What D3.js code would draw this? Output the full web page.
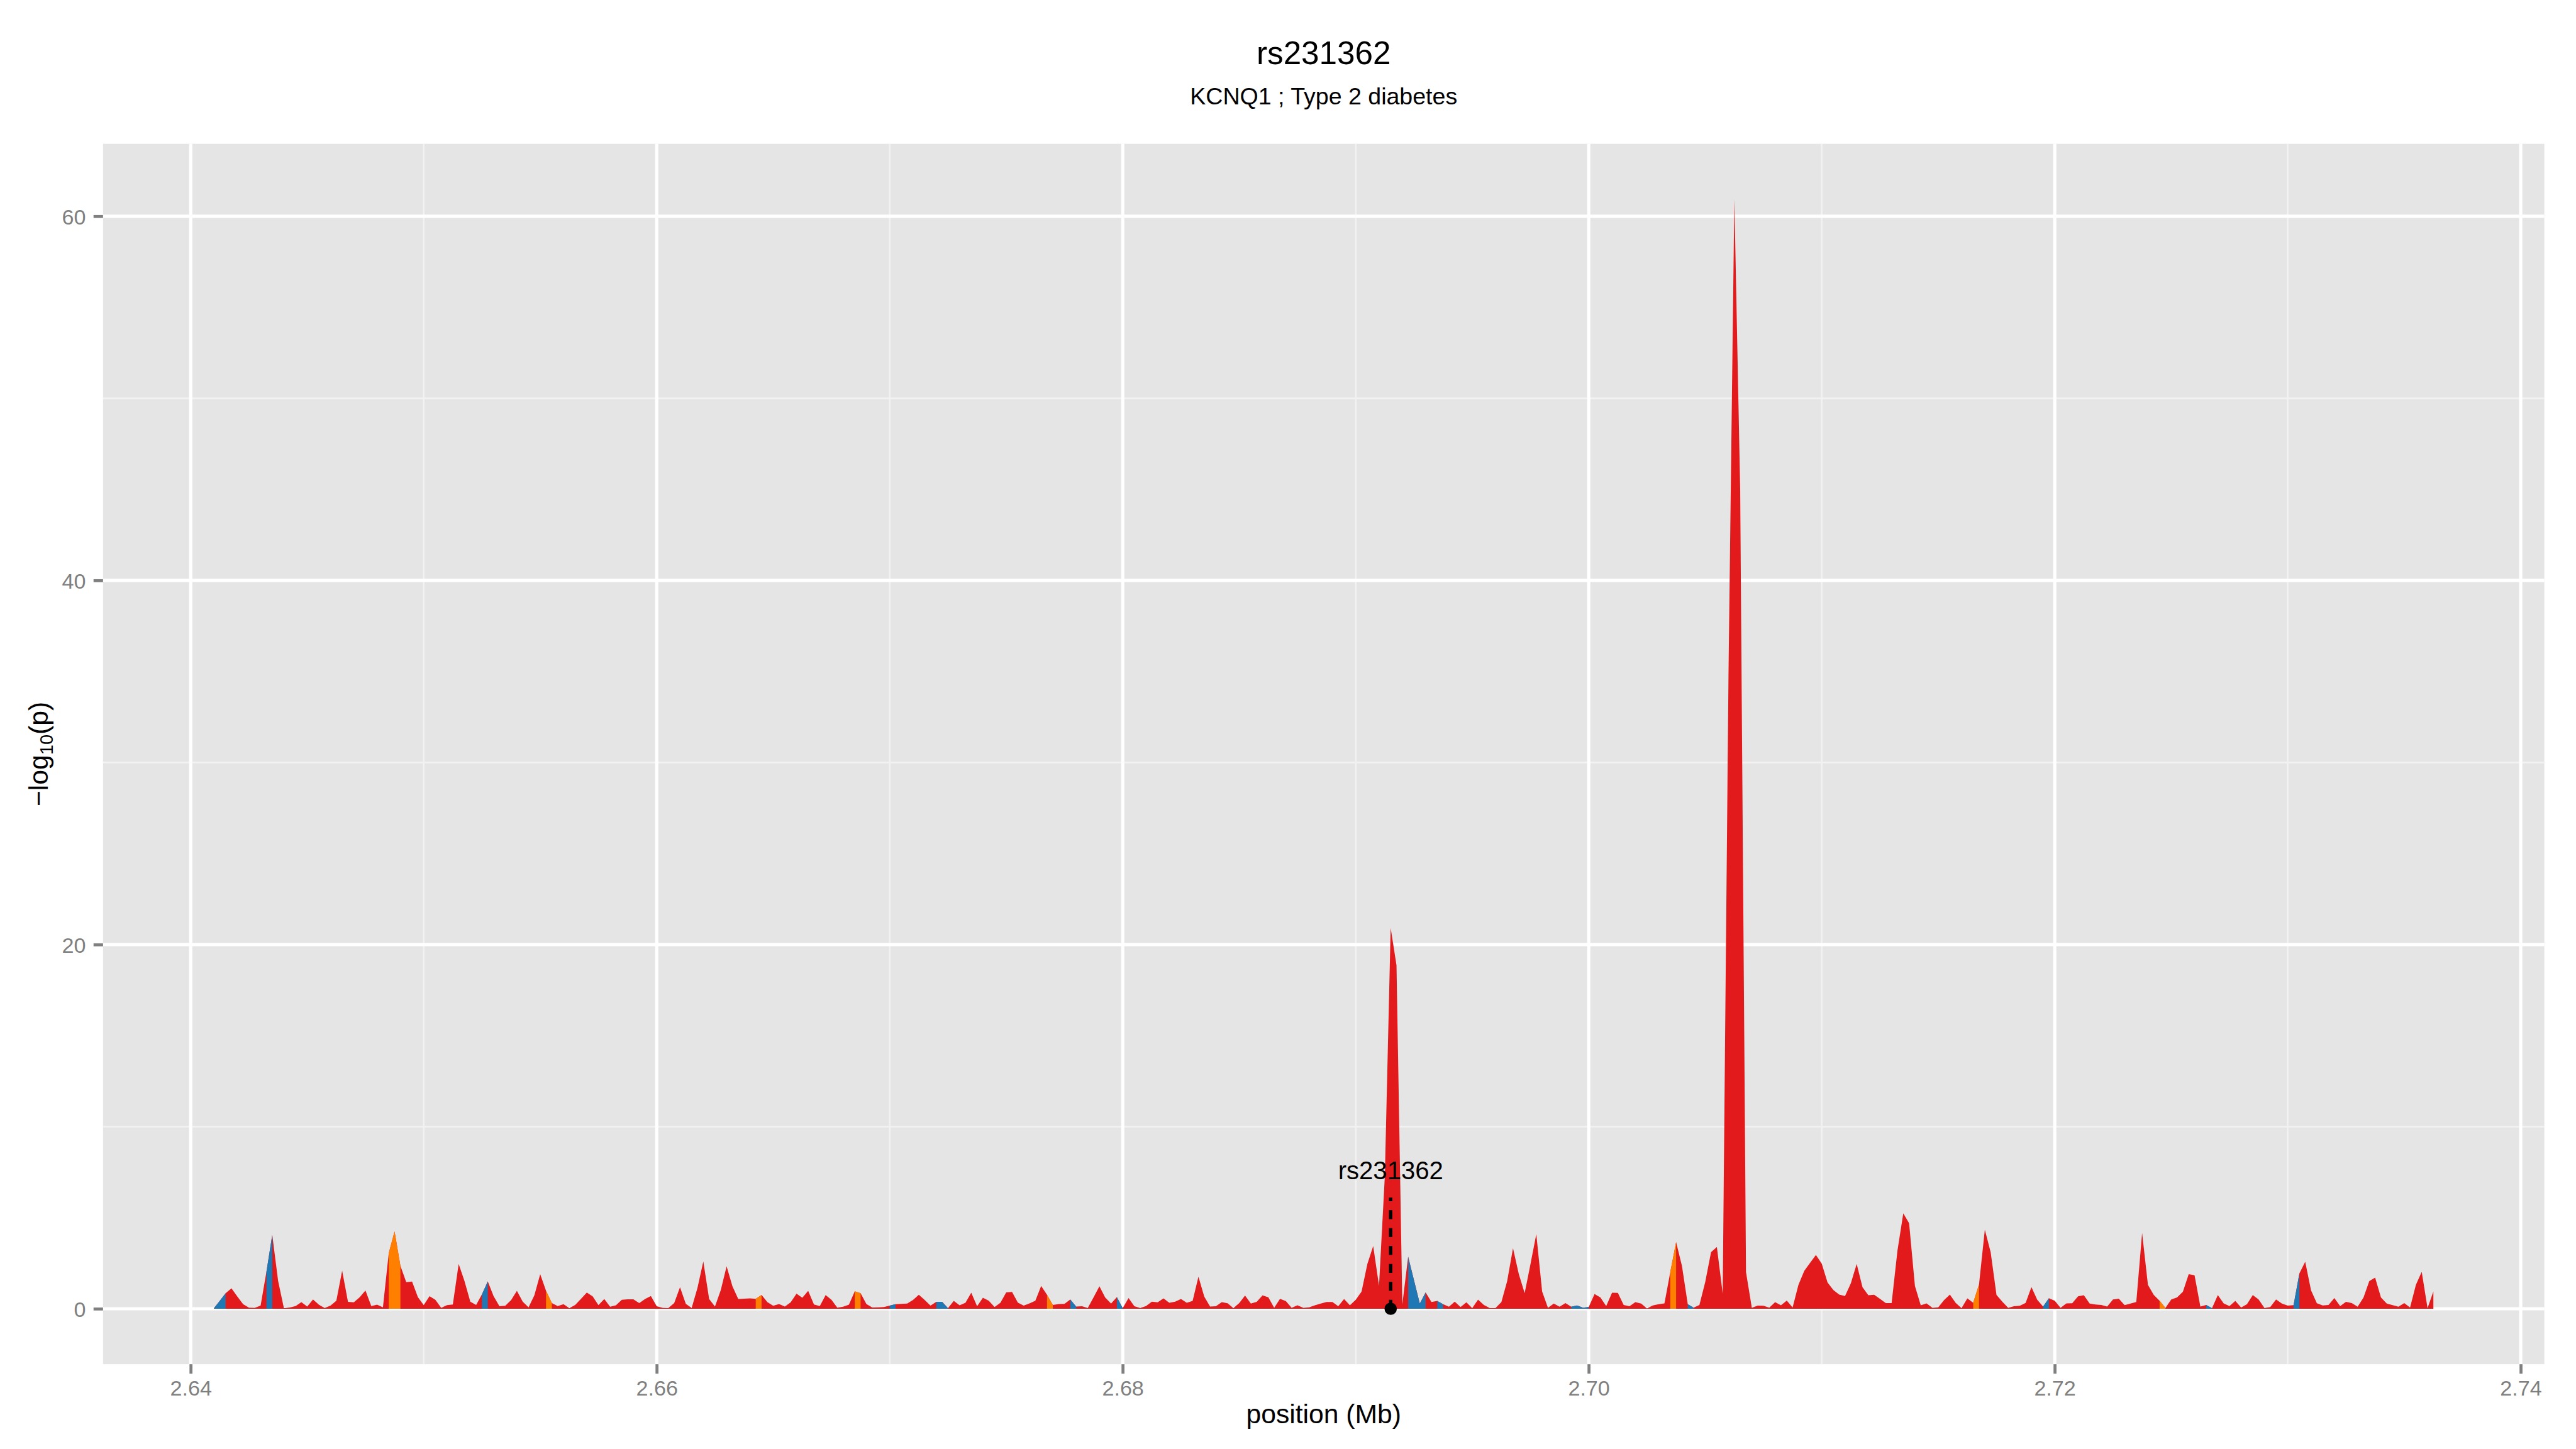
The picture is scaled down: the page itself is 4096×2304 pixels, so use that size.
<!DOCTYPE html>
<html>
<head>
<meta charset="utf-8">
<script src="https://cdn.jsdelivr.net/npm/d3@7/dist/d3.min.js"></script>
<style>
  html, body { margin: 0; padding: 0; background: #fff; }
  svg { display: block; }
</style>
</head>
<body>
<svg id="chart"></svg>
<script>
// ---- data ----
const plotTitle = "rs231362";
const plotSubtitle = "KCNQ1 ; Type 2 diabetes";
const xLabel = "position (Mb)";

// SNP positions (Mb)
const positions = [
  2.641,2.64125,2.6415,2.64175,2.642,2.64225,2.6425,2.64275,2.643,2.64325,2.6435,2.64375,2.644,2.64425,2.6445,2.64475,
  2.645,2.64525,2.6455,2.64575,2.646,2.64625,2.6465,2.64675,2.647,2.64725,2.6475,2.64775,2.648,2.64825,2.6485,2.64875,
  2.649,2.64925,2.6495,2.64975,2.65,2.65025,2.6505,2.65075,2.651,2.65125,2.6515,2.65175,2.652,2.65225,2.6525,2.65275,
  2.653,2.65325,2.6535,2.65375,2.654,2.65425,2.6545,2.65475,2.655,2.65525,2.6555,2.65575,2.656,2.65625,2.6565,2.65675,
  2.657,2.65725,2.6575,2.65775,2.658,2.65825,2.6585,2.65875,2.659,2.65925,2.6595,2.65975,2.66,2.66025,2.6605,2.66075,
  2.661,2.66125,2.6615,2.66175,2.662,2.66225,2.6625,2.66275,2.663,2.66325,2.6635,2.66375,2.664,2.66425,2.6645,2.66475,
  2.665,2.66525,2.6655,2.66575,2.666,2.66625,2.6665,2.66675,2.667,2.66725,2.6675,2.66775,2.668,2.66825,2.6685,2.66875,
  2.669,2.66925,2.6695,2.66975,2.67,2.67025,2.6705,2.67075,2.671,2.67125,2.6715,2.67175,2.672,2.67225,2.6725,2.67275,
  2.673,2.67325,2.6735,2.67375,2.674,2.67425,2.6745,2.67475,2.675,2.67525,2.6755,2.67575,2.676,2.67625,2.6765,2.67675,
  2.677,2.67725,2.6775,2.67775,2.678,2.67825,2.6785,2.67875,2.679,2.67925,2.6795,2.67975,2.68,2.68025,2.6805,2.68075,
  2.681,2.68125,2.6815,2.68175,2.682,2.68225,2.6825,2.68275,2.683,2.68325,2.6835,2.68375,2.684,2.68425,2.6845,2.68475,
  2.685,2.68525,2.6855,2.68575,2.686,2.68625,2.6865,2.68675,2.687,2.68725,2.6875,2.68775,2.688,2.68825,2.6885,2.68875,
  2.689,2.68925,2.6895,2.68975,2.69,2.69025,2.6905,2.69075,2.691,2.69125,2.6915,2.69175,2.692,2.69225,2.6925,2.69275,
  2.693,2.69325,2.6935,2.69375,2.694,2.69425,2.6945,2.69475,2.695,2.69525,2.6955,2.69575,2.696,2.69625,2.6965,2.69675,
  2.697,2.69725,2.6975,2.69775,2.698,2.69825,2.6985,2.69875,2.699,2.69925,2.6995,2.69975,2.7,2.70025,2.7005,2.70075,
  2.701,2.70125,2.7015,2.70175,2.702,2.70225,2.7025,2.70275,2.703,2.70325,2.7035,2.70375,2.704,2.70425,2.7045,2.70475,
  2.705,2.70525,2.7055,2.70575,2.706,2.70625,2.7065,2.70675,2.707,2.70725,2.7075,2.70775,2.708,2.70825,2.7085,2.70875,
  2.709,2.70925,2.7095,2.70975,2.71,2.71025,2.7105,2.71075,2.711,2.71125,2.7115,2.71175,2.712,2.71225,2.7125,2.71275,
  2.713,2.71325,2.7135,2.71375,2.714,2.71425,2.7145,2.71475,2.715,2.71525,2.7155,2.71575,2.716,2.71625,2.7165,2.71675,
  2.717,2.71725,2.7175,2.71775,2.718,2.71825,2.7185,2.71875,2.719,2.71925,2.7195,2.71975,2.72,2.72025,2.7205,2.72075,
  2.721,2.72125,2.7215,2.72175,2.722,2.72225,2.7225,2.72275,2.723,2.72325,2.7235,2.72375,2.724,2.72425,2.7245,2.72475,
  2.725,2.72525,2.7255,2.72575,2.726,2.72625,2.7265,2.72675,2.727,2.72725,2.7275,2.72775,2.728,2.72825,2.7285,2.72875,
  2.729,2.72925,2.7295,2.72975,2.73,2.73025,2.7305,2.73075,2.731,2.73125,2.7315,2.73175,2.732,2.73225,2.7325,2.73275,
  2.733,2.73325,2.7335,2.73375,2.734,2.73425,2.7345,2.73475,2.735,2.73525,2.7355,2.73575,2.736,2.73625
];

// -log10(p) at each position
const logp = [
  0.03,0.44,0.85,1.12,0.67,0.25,0.06,0.05,0.17,2.03,4.06,1.54,0.03,0.07,0.15,0.36,
  0.12,0.51,0.22,0.04,0.17,0.44,2.09,0.38,0.35,0.63,1.00,0.15,0.22,0.08,3.06,4.25,
  2.36,1.46,1.49,0.64,0.20,0.69,0.49,0.05,0.20,0.23,2.46,1.52,0.39,0.21,0.79,1.50,
  0.69,0.14,0.16,0.47,0.98,0.39,0.08,0.74,1.90,0.98,0.31,0.15,0.25,0.03,0.21,0.54,
  0.89,0.68,0.20,0.53,0.11,0.19,0.49,0.52,0.52,0.31,0.53,0.70,0.14,0.05,0.04,0.31,
  1.18,0.27,0.04,1.15,2.60,0.53,0.12,1.03,2.33,1.23,0.53,0.55,0.57,0.54,0.76,0.36,
  0.16,0.26,0.12,0.35,0.83,0.60,0.98,0.23,0.15,0.75,0.49,0.06,0.11,0.22,0.96,0.85,
  0.26,0.07,0.08,0.09,0.17,0.25,0.27,0.28,0.48,0.77,0.48,0.17,0.38,0.38,0.03,0.43,
  0.19,0.33,0.88,0.14,0.60,0.44,0.09,0.33,0.90,0.92,0.34,0.17,0.29,0.44,1.25,0.77,
  0.21,0.26,0.27,0.51,0.12,0.14,0.04,0.63,1.23,0.61,0.28,0.64,0.03,0.59,0.14,0.04,
  0.15,0.39,0.35,0.57,0.33,0.39,0.53,0.33,0.43,1.76,0.66,0.12,0.14,0.36,0.30,0.03,
  0.31,0.72,0.28,0.38,0.73,0.63,0.05,0.54,0.42,0.05,0.19,0.05,0.08,0.19,0.28,0.37,
  0.37,0.14,0.53,0.19,0.49,0.94,2.46,3.44,1.26,7.30,20.91,18.86,0.23,2.86,1.57,0.28,
  0.90,0.37,0.43,0.25,0.11,0.39,0.09,0.35,0.03,0.50,0.21,0.04,0.04,0.36,1.52,3.32,
  1.90,0.85,2.45,4.10,0.95,0.05,0.28,0.11,0.31,0.11,0.18,0.06,0.09,0.81,0.62,0.15,
  0.88,0.87,0.21,0.14,0.36,0.28,0.02,0.18,0.25,0.29,2.01,3.66,2.36,0.25,0.06,0.21,
  1.47,3.11,3.39,0.83,35.0,60.93,45.0,2.01,0.05,0.17,0.16,0.06,0.36,0.19,0.45,0.07,
  1.31,2.08,2.52,2.95,2.48,1.44,1.03,0.78,0.70,1.40,2.46,1.18,0.74,0.77,0.54,0.31,
  0.31,3.19,5.24,4.70,1.25,0.19,0.29,0.05,0.08,0.47,0.78,0.32,0.03,0.57,0.33,1.33,
  4.34,3.11,0.76,0.39,0.05,0.14,0.16,0.32,1.19,0.49,0.12,0.58,0.44,0.05,0.29,0.30,
  0.68,0.74,0.28,0.23,0.21,0.12,0.51,0.55,0.20,0.28,0.37,4.16,1.31,0.76,0.44,0.04,
  0.51,0.62,0.93,1.90,1.84,0.12,0.21,0.03,0.75,0.29,0.15,0.43,0.07,0.25,0.75,0.51,
  0.04,0.09,0.51,0.28,0.17,0.20,1.94,2.58,1.01,0.30,0.18,0.21,0.59,0.15,0.38,0.31,
  0.11,0.61,1.52,1.71,0.62,0.28,0.20,0.11,0.31,0.07,1.31,2.03,0.03,0.95
];

// intervals (index of left point) filled in the other two classes; the rest is red
const blueIntervals = [0,1,9,46,116,124,125,147,155,205,206,207,210,233,234,235,253,314,342,357];
const orangeIntervals = [30,31,57,93,110,143,250,302,334];

// the highlighted SNP
const snpName = "rs231362";
const snpPos = 2.6915;
const snpLineTop = 6.1;
const snpLabelY = 7.1;

// axis breaks
const xBreaks = [2.64, 2.66, 2.68, 2.70, 2.72, 2.74];
const xMinor = [2.65, 2.67, 2.69, 2.71, 2.73];
const yBreaks = [0, 20, 40, 60];
const yMinor = [10, 30, 50];

const colors = { red: "#E31A1C", blue: "#1F78B4", orange: "#FF7F00" };

// ---- layout, in reference pixels (4800 x 2700), scaled down to the window ----
const font = "'Liberation Sans', Arial, Helvetica, sans-serif";
const svg = d3.select("#chart").attr("width", 4096).attr("height", 2304);
const root = svg.append("g").attr("transform", "scale(" + (4096 / 4800) + ")");

const panel = { left: 192, right: 4741, top: 268, bottom: 2542 };

if (positions.length !== logp.length) console.error("length mismatch", positions.length, logp.length);

const xPad = (d3.max(positions) - d3.min(positions)) * 0.05;
const x = d3.scaleLinear()
  .domain([d3.min(positions) - xPad, d3.max(positions) + xPad])
  .range([panel.left, panel.right]);
const yPad = d3.max(logp) * 0.05;
const y = d3.scaleLinear()
  .domain([-yPad, d3.max(logp) + yPad])
  .range([panel.bottom, panel.top]);

// panel background
root.append("rect")
  .attr("x", panel.left).attr("y", panel.top)
  .attr("width", panel.right - panel.left).attr("height", panel.bottom - panel.top)
  .attr("fill", "#E5E5E5");

// minor grid
const grid = root.append("g");
grid.selectAll(".xminor").data(xMinor).enter().append("line")
  .attr("x1", d => x(d)).attr("x2", d => x(d))
  .attr("y1", panel.top).attr("y2", panel.bottom)
  .attr("stroke", "#F2F2F2").attr("stroke-width", 3);
grid.selectAll(".yminor").data(yMinor).enter().append("line")
  .attr("x1", panel.left).attr("x2", panel.right)
  .attr("y1", d => y(d)).attr("y2", d => y(d))
  .attr("stroke", "#F2F2F2").attr("stroke-width", 3);
// major grid
grid.selectAll(".xmajor").data(xBreaks).enter().append("line")
  .attr("x1", d => x(d)).attr("x2", d => x(d))
  .attr("y1", panel.top).attr("y2", panel.bottom)
  .attr("stroke", "#FFFFFF").attr("stroke-width", 6);
grid.selectAll(".ymajor").data(yBreaks).enter().append("line")
  .attr("x1", panel.left).attr("x2", panel.right)
  .attr("y1", d => y(d)).attr("y2", d => y(d))
  .attr("stroke", "#FFFFFF").attr("stroke-width", 6);

// areas
const area = d3.area()
  .x(i => x(positions[i]))
  .y0(y(0))
  .y1(i => y(logp[i]));

const idx = d3.range(positions.length);
root.append("path")
  .attr("d", area(idx))
  .attr("fill", colors.red);

function runs(list) {
  const out = [];
  const sorted = list.slice().sort((a, b) => a - b);
  let start = null, prev = null;
  sorted.forEach(i => {
    if (start === null) { start = i; prev = i; }
    else if (i === prev + 1) { prev = i; }
    else { out.push([start, prev + 1]); start = i; prev = i; }
  });
  if (start !== null) out.push([start, prev + 1]);
  return out;
}

[["blue", blueIntervals], ["orange", orangeIntervals]].forEach(([cls, list]) => {
  runs(list).forEach(([a, b]) => {
    root.append("path")
      .attr("d", area(d3.range(a, b + 1)))
      .attr("fill", colors[cls]);
  });
});

// highlighted SNP: dashed segment, point, label
root.append("line")
  .attr("x1", x(snpPos)).attr("x2", x(snpPos))
  .attr("y1", y(0)).attr("y2", y(snpLineTop))
  .attr("stroke", "#000").attr("stroke-width", 6.3)
  .attr("stroke-dasharray", "16.7,16.7");
root.append("circle")
  .attr("cx", x(snpPos)).attr("cy", y(0)).attr("r", 11.5)
  .attr("fill", "#000");
root.append("text")
  .attr("x", x(snpPos)).attr("y", y(snpLabelY))
  .attr("text-anchor", "middle")
  .attr("font-family", font).attr("font-size", 47)
  .attr("fill", "#000")
  .text(snpName);

// axes
const xAxis = root.append("g")
  .attr("transform", "translate(0," + panel.bottom + ")")
  .call(d3.axisBottom(x).tickValues(xBreaks).tickFormat(d3.format(".2f"))
    .tickSize(17.7).tickPadding(12).tickSizeOuter(0));
const yAxis = root.append("g")
  .attr("transform", "translate(" + panel.left + ",0)")
  .call(d3.axisLeft(y).tickValues(yBreaks).tickFormat(d3.format("d"))
    .tickSize(17.7).tickPadding(14.3).tickSizeOuter(0));
[xAxis, yAxis].forEach(g => {
  g.select(".domain").remove();
  g.attr("font-family", font).attr("font-size", 40);
  g.selectAll(".tick line").attr("stroke", "#7F7F7F").attr("stroke-width", 5.5);
  g.selectAll(".tick text").attr("fill", "#7F7F7F");
});
yAxis.selectAll(".tick text").attr("dy", "0.36em");

// axis titles
const midX = (panel.left + panel.right) / 2;
const midY = (panel.top + panel.bottom) / 2;
root.append("text")
  .attr("x", midX).attr("y", 2652)
  .attr("text-anchor", "middle")
  .attr("font-family", font).attr("font-size", 50)
  .attr("fill", "#000")
  .text(xLabel);

const yTitle = root.append("text")
  .attr("transform", "translate(89," + midY + ") rotate(-90)")
  .attr("text-anchor", "middle")
  .attr("font-family", font).attr("font-size", 50)
  .attr("fill", "#000");
yTitle.append("tspan").text("\u2212log");
yTitle.append("tspan").attr("font-size", 34).attr("dy", 10).text("10");
yTitle.append("tspan").attr("dy", -10).text("(p)");

// titles
root.append("text")
  .attr("x", midX).attr("y", 119)
  .attr("text-anchor", "middle")
  .attr("font-family", font).attr("font-size", 60)
  .attr("fill", "#000")
  .text(plotTitle);
root.append("text")
  .attr("x", midX).attr("y", 195)
  .attr("text-anchor", "middle")
  .attr("font-family", font).attr("font-size", 44)
  .attr("fill", "#000")
  .text(plotSubtitle);
</script>
</body>
</html>
